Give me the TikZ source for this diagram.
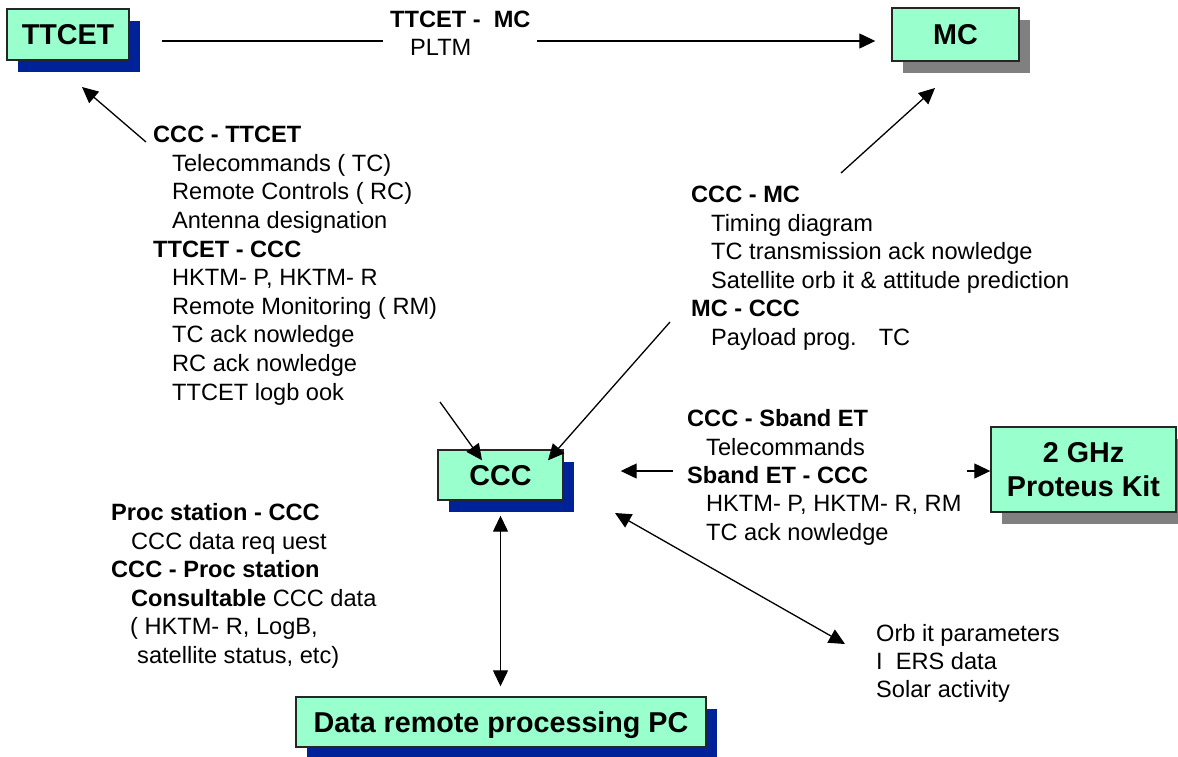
\documentclass[tikz,border=0pt]{standalone}
\usepackage{fontspec}
\setmainfont{Liberation Sans}
\usetikzlibrary{arrows.meta,shadows}
\definecolor{mint}{RGB}{153,255,204}
\definecolor{shadowblue}{RGB}{0,34,153}
\definecolor{shadowgray}{RGB}{128,128,128}
\newcommand\boxfont{\fontsize{28.7}{33.4}\selectfont\bfseries}
\newcommand\txtfont{\fontsize{23.6}{28.6}\selectfont}
\begin{document}
\begin{tikzpicture}[x=1pt,y=-1pt,
  box/.style={draw=black!85, line width=1.4pt, fill=mint, inner sep=0pt,
    font=\boxfont, align=center, text depth=0pt},
  blueshadow/.style={drop shadow={shadow xshift=11pt, shadow yshift=-12pt,
    fill=shadowblue, draw=none, opacity=1}},
  grayshadow/.style={drop shadow={shadow xshift=11pt, shadow yshift=-12pt,
    fill=shadowgray, draw=none, opacity=1}},
  txt/.style={anchor=base west, inner sep=0pt, font=\txtfont},
  hd/.style={txt, font=\txtfont\bfseries},
  link/.style={line width=1.3pt},
  tip/.tip={Triangle[length=16pt,width=15pt]},
  arr/.style={link, -tip},
  arrboth/.style={link, tip-tip}]
\useasboundingbox (0,0) rectangle (1178,756);

% stations
\node[box, blueshadow, minimum width=122pt, minimum height=51pt] (ttcet) at (68,34.5) {TTCET};
\node[box, grayshadow, minimum width=127pt, minimum height=53pt] (mc) at (955.5,34.5) {MC};
\node[box, blueshadow, minimum width=125pt, minimum height=50pt] (ccc) at (500.5,475) {CCC};
\node[box, grayshadow, minimum width=185pt, minimum height=85pt] (kit) at (1083.5,469.5) {2 GHz\\Proteus Kit};
\node[box, blueshadow, minimum width=410pt, minimum height=50pt] (pc) at (501,722) {Data remote processing PC};

% TTCET -> MC link, interrupted by its label
\coordinate (g1) at (383,41);
\coordinate (g2) at (537,41);
\draw[link, shorten <=32pt] (ttcet.east |- g1) -- (g1);
\draw[arr, shorten >=16pt] (g2) -- (mc.west |- g2);
\node[hd] (lblttmc) at (390,27) {TTCET -\ \ MC};
\node[txt] (lblpltm) at (410,55) {PLTM};

% CCC <-> TTCET
\coordinate (t1) at (146,142);
\coordinate (t2) at (82,87);
\draw[arr] (t1) -- (t2);
\node[hd] (l1) at (153,142.7) {CCC - TTCET};
\node[txt] (l2) at (172,171.3) {Telecommands ( TC)};
\node[txt] (l3) at (172,199.9) {Remote Controls ( RC)};
\node[txt] (l4) at (172,228.5) {Antenna designation};
\node[hd] (l5) at (153,257.1) {TTCET - CCC};
\node[txt] (l6) at (172,285.7) {HKTM- P, HKTM- R};
\node[txt] (l7) at (172,314.3) {Remote Monitoring ( RM)};
\node[txt] (l8) at (172,342.9) {TC ack nowledge};
\node[txt] (l9) at (172,371.5) {RC ack nowledge};
\node[txt] (l10) at (172,400.1) {TTCET logb ook};
\coordinate (c1) at (440,402);
\draw[arr] (c1) -- ([xshift=-18.5pt,yshift=-11pt]ccc.north);

% CCC <-> MC
\coordinate (m1) at (841,173);
\coordinate (m2) at (935,88);
\draw[arr] (m1) -- (m2);
\node[hd] (r1) at (691,202.7) {CCC - MC};
\node[txt] (r2) at (711,231.2) {Timing diagram};
\node[txt] (r3) at (711,259.7) {TC transmission ack nowledge};
\node[txt] (r4) at (711,288.2) {Satellite orb it \& attitude prediction};
\node[hd] (r5) at (691,316.7) {MC - CCC};
\node[txt] (r6) at (711,345.2) {Payload prog.\hspace{22pt}TC};
\coordinate (c3) at (670,322);
\draw[arr] (c3) -- ([xshift=47.5pt,yshift=-11pt]ccc.north);

% CCC <-> Sband ET (Proteus kit)
\coordinate (s1) at (673,471);
\coordinate (s3) at (967,471);
\draw[arr, shorten >=57pt] (s1) -- (ccc.east |- s1);
\draw[arr] (s3) -- (kit.west |- s3);
\node[hd] (k1) at (687,426.7) {CCC - Sband ET};
\node[txt] (k2) at (706,455) {Telecommands};
\node[hd] (k3) at (687,483.3) {Sband ET - CCC};
\node[txt] (k4) at (706,511.7) {HKTM- P, HKTM- R, RM};
\node[txt] (k5) at (706,540) {TC ack nowledge};

% CCC <-> processing PC
\draw[arrboth, shorten <=15pt, shorten >=10pt] (ccc.south) -- (ccc.south |- pc.north);
\node[hd] (p1) at (111,520.7) {Proc station - CCC};
\node[txt] (p2) at (131,549.2) {CCC data req uest};
\node[hd] (p3) at (111,577.7) {CCC - Proc station};
\node[txt] (p4) at (131,606.2) {\textbf{Consultable} CCC data};
\node[txt] (p5) at (130,634.7) {( HKTM- R, LogB,};
\node[txt] (p6) at (137,663.2) {satellite status, etc)};

% CCC <-> external data
\coordinate (o1) at (615,513);
\coordinate (o2) at (845,644);
\draw[arrboth] (o1) -- (o2);
\node[txt] (e1) at (876,641.7) {Orb it parameters};
\node[txt] (e2) at (876,669.7) {I\ \ ERS data};
\node[txt] (e3) at (876,697.7) {Solar activity};
\end{tikzpicture}
\end{document}
